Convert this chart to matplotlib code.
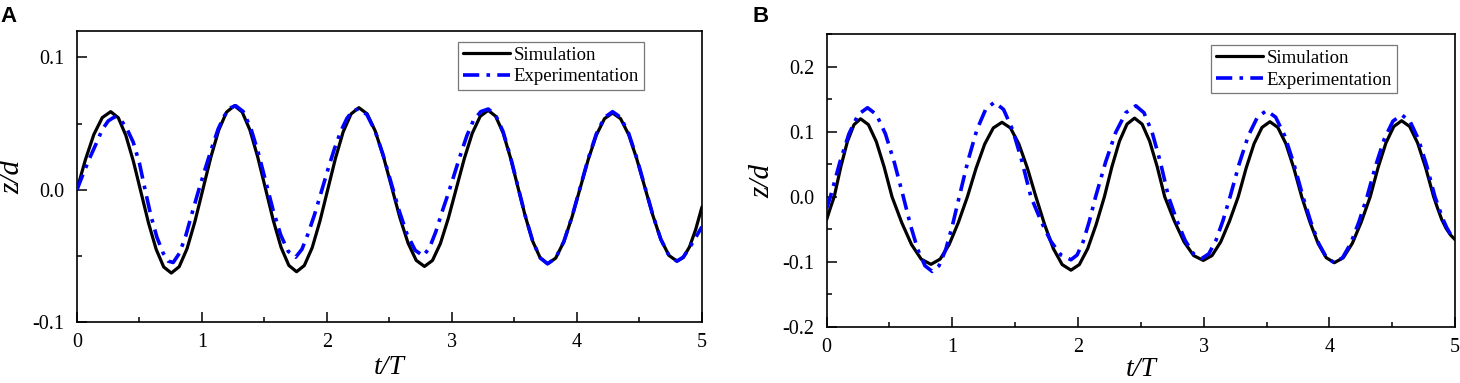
import matplotlib
matplotlib.use("Agg")
import matplotlib.pyplot as plt
from matplotlib.ticker import MultipleLocator

plt.rcParams['axes.unicode_minus'] = False
plt.rcParams['font.family'] = ['Liberation Serif', 'DejaVu Serif']

# ---------------- data ----------------
a_sim_t = [0, 0.0675, 0.135, 0.2025, 0.27, 0.331, 0.391, 0.452, 0.5125, 0.573, 0.634, 0.694, 0.755,
           0.818, 0.881, 0.944, 1.0075, 1.071, 1.134, 1.197, 1.26, 1.322, 1.384, 1.446, 1.5085, 1.571,
           1.633, 1.695, 1.757, 1.819, 1.882, 1.944, 2.006, 2.068, 2.130, 2.193, 2.255, 2.321, 2.386,
           2.452, 2.5175, 2.583, 2.649, 2.714, 2.78, 2.844, 2.9075, 2.971, 3.035, 3.099, 3.1625, 3.226,
           3.29, 3.349, 3.409, 3.468, 3.5275, 3.587, 3.646, 3.706, 3.765, 3.83, 3.895, 3.96, 4.025,
           4.09, 4.155, 4.22, 4.285, 4.349, 4.414, 4.478, 4.5425, 4.607, 4.671, 4.736, 4.80, 4.85,
           4.90, 4.95, 5.0]
a_sim_z = [0, 0.0226, 0.0417, 0.0545, 0.059, 0.0544, 0.0411, 0.0213, -0.002, -0.0253, -0.0451, -0.0584,
           -0.063, -0.0582, -0.0445, -0.0240, 0.0003, 0.0245, 0.0450, 0.0587, 0.0635, 0.0587, 0.0451,
           0.0248, 0.0008, -0.0233, -0.0436, -0.0572, -0.062, -0.0573, -0.0438, -0.0237, 0.0, 0.0237,
           0.0438, 0.0573, 0.062, 0.0574, 0.0444, 0.0250, 0.002, -0.0210, -0.0404, -0.0534, -0.058,
           -0.0535, -0.0407, -0.0216, 0.001, 0.0236, 0.0427, 0.0555, 0.060, 0.0556, 0.0430, 0.0242,
           0.002, -0.0202, -0.0390, -0.0516, -0.056, -0.0517, -0.0393, -0.0208, 0.001, 0.0228, 0.0413,
           0.0537, 0.058, 0.0537, 0.0416, 0.0234, 0.002, -0.0194, -0.0376, -0.0497, -0.054, -0.0513,
           -0.0433, -0.030, -0.013]

a_exp_t = [0, 0.05, 0.10, 0.15, 0.20, 0.25, 0.30, 0.35, 0.40, 0.45, 0.50, 0.545, 0.59, 0.64, 0.69,
           0.73, 0.77, 0.82, 0.87, 0.92, 0.975, 1.03, 1.08, 1.13, 1.18, 1.23, 1.27, 1.33, 1.39, 1.45,
           1.51, 1.57, 1.63, 1.69, 1.75, 1.80, 1.85, 1.90, 1.96, 2.01, 2.06, 2.11, 2.16, 2.21, 2.255,
           2.319, 2.384, 2.448, 2.5125, 2.577, 2.641, 2.706, 2.77, 2.82, 2.87, 2.92, 2.97, 3.02, 3.07,
           3.12, 3.17, 3.23, 3.29, 3.349, 3.409, 3.468, 3.5275, 3.587, 3.646, 3.706, 3.765, 3.83,
           3.895, 3.96, 4.025, 4.09, 4.155, 4.22, 4.285, 4.349, 4.414, 4.478, 4.5425, 4.607, 4.671,
           4.736, 4.80, 4.85, 4.90, 4.95, 5.0]
a_exp_z = [0, 0.012, 0.0235, 0.034, 0.045, 0.052, 0.055, 0.053, 0.046, 0.036, 0.020, 0.0, -0.019,
           -0.036, -0.048, -0.054, -0.055, -0.048, -0.035, -0.018, 0.0, 0.017, 0.032, 0.046, 0.056,
           0.062, 0.0635, 0.0591, 0.0467, 0.0282, 0.0063, -0.0157, -0.0342, -0.0466, -0.051, -0.045,
           -0.033, -0.019, 0.0, 0.016, 0.031, 0.044, 0.054, 0.060, 0.061, 0.0568, 0.0447, 0.0267,
           0.0055, -0.0157, -0.0337, -0.0458, -0.050, -0.044, -0.032, -0.017, -0.003, 0.012, 0.027,
           0.041, 0.052, 0.059, 0.061, 0.0565, 0.0439, 0.0249, 0.0025, -0.0199, -0.0389, -0.0515,
           -0.056, -0.0516, -0.0392, -0.0205, 0.0015, 0.0235, 0.0422, 0.0546, 0.059, 0.0547, 0.0425,
           0.0241, 0.0025, -0.0191, -0.0375, -0.0497, -0.054, -0.051, -0.044, -0.036, -0.028]

b_sim_t = [0, 0.03, 0.06, 0.1125, 0.165, 0.2175, 0.27, 0.3325, 0.395, 0.4575, 0.52, 0.5975, 0.675,
           0.7525, 0.83, 0.9025, 0.975, 1.0475, 1.12, 1.189, 1.2575, 1.326, 1.395, 1.4625, 1.53,
           1.5975, 1.665, 1.735, 1.804, 1.874, 1.944, 2.0105, 2.077, 2.1435, 2.21, 2.27, 2.33, 2.39,
           2.45, 2.51, 2.57, 2.63, 2.69, 2.767, 2.8435, 2.92, 2.997, 3.0665, 3.136, 3.2055, 3.275,
           3.338, 3.401, 3.464, 3.527, 3.59, 3.654, 3.717, 3.78, 3.845, 3.91, 3.975, 4.04, 4.111,
           4.1825, 4.254, 4.325, 4.3875, 4.45, 4.5125, 4.575, 4.639, 4.7025, 4.766, 4.83, 4.86, 4.894,
           4.93, 4.965, 5.0]
b_sim_z = [-0.035, -0.017, 0.0, 0.0459, 0.0849, 0.1109, 0.120, 0.1109, 0.0849, 0.0459, 0.0, -0.0398,
           -0.0735, -0.0961, -0.104, -0.0961, -0.0735, -0.0398, 0.0, 0.0439, 0.0810, 0.1059, 0.1146,
           0.1059, 0.0810, 0.0439, 0.0, -0.0432, -0.0799, -0.1044, -0.113, -0.1044, -0.0799, -0.0432,
           0.0, 0.0463, 0.0856, 0.1118, 0.121, 0.1118, 0.0856, 0.0463, 0.0, -0.0375, -0.0693, -0.0905,
           -0.098, -0.0905, -0.0693, -0.0375, 0.0, 0.0442, 0.0817, 0.1067, 0.1155, 0.1067, 0.0817,
           0.0442, 0.0, -0.0388, -0.0718, -0.0938, -0.1015, -0.0938, -0.0718, -0.0388, 0.0, 0.0448,
           0.0827, 0.1081, 0.117, 0.1081, 0.0827, 0.0448, 0.0, -0.017, -0.035, -0.049, -0.059, -0.066]

b_exp_t = [0, 0.03, 0.104, 0.1775, 0.251, 0.325, 0.396, 0.4675, 0.539, 0.61, 0.6675, 0.725, 0.7825,
           0.84, 0.894, 0.9475, 1.001, 1.055, 1.125, 1.195, 1.265, 1.335, 1.4075, 1.48, 1.5525, 1.625,
           1.705, 1.784, 1.864, 1.944, 1.993, 2.042, 2.091, 2.14, 2.22, 2.30, 2.38, 2.46, 2.525, 2.59,
           2.655, 2.72, 2.786, 2.8525, 2.919, 2.985, 3.041, 3.0975, 3.154, 3.21, 3.2825, 3.355, 3.4275,
           3.50, 3.5725, 3.645, 3.7175, 3.79, 3.8525, 3.915, 3.9775, 4.04, 4.105, 4.17, 4.235, 4.30,
           4.369, 4.4375, 4.506, 4.575, 4.641, 4.7075, 4.774, 4.84, 4.87, 4.90, 4.935, 4.965, 5.0]
b_exp_z = [-0.018, 0.0, 0.0524, 0.0969, 0.1266, 0.137, 0.1266, 0.0969, 0.0524, 0.0, -0.0440, -0.0813,
           -0.1062, -0.115, -0.1062, -0.0813, -0.0440, 0.0, 0.0557, 0.1029, 0.1344, 0.1455, 0.1344,
           0.1029, 0.0557, 0.0, -0.0371, -0.0686, -0.0896, -0.097, -0.0896, -0.0686, -0.0371, 0.0,
           0.0536, 0.0990, 0.1293, 0.140, 0.1293, 0.0990, 0.0536, 0.0, -0.0364, -0.0672, -0.0878,
           -0.095, -0.0878, -0.0672, -0.0364, 0.0, 0.0507, 0.0938, 0.1225, 0.1326, 0.1225, 0.0938,
           0.0507, 0.0, -0.0388, -0.0718, -0.0938, -0.1015, -0.0938, -0.0718, -0.0388, 0.0, 0.0482,
           0.0891, 0.1164, 0.126, 0.1164, 0.0891, 0.0482, 0.0, -0.016, -0.033, -0.048, -0.058, -0.066]

x_ticks = [0, 1, 2, 3, 4, 5]
x_labels = ['0', '1', '2', '3', '4', '5']
a_yticks = [-0.1, 0.0, 0.1]
a_ylabels = ['-0.1', '0.0', '0.1']
b_yticks = [-0.2, -0.1, 0.0, 0.1, 0.2]
b_ylabels = ['-0.2', '-0.1', '0.0', '0.1', '0.2']
series_names = ['Simulation', 'Experimentation']
panel_names = ['A', 'B']

# ---------------- figure ----------------
fig = plt.figure(figsize=(14.6, 3.83), dpi=100)
axA = fig.add_axes([0.0527, 0.1593, 0.4281, 0.7598])
axB = fig.add_axes([0.5662, 0.1470, 0.4304, 0.7634])

panels = [
    (axA, a_sim_t, a_sim_z, a_exp_t, a_exp_z, (-0.1, 0.12), a_yticks, a_ylabels, 2),
    (axB, b_sim_t, b_sim_z, b_exp_t, b_exp_z, (-0.2, 0.25), b_yticks, b_ylabels, 0),
]

for ax, st, sz, et, ez, ylim, yt, yl, xpad in panels:
    ax.plot(st, sz, color='black', lw=2.3, solid_joinstyle='round', solid_capstyle='round',
            label=series_names[0], zorder=2)
    ax.plot(et, ez, color='#0000ff', lw=2.6, linestyle=(0, (4.5, 2.0, 1, 2.0)),
            dash_joinstyle='round', label=series_names[1], zorder=3)
    ax.set_xlim(0, 5)
    ax.set_ylim(*ylim)
    ax.set_xticks(x_ticks)
    ax.set_xticklabels(x_labels)
    ax.set_yticks(yt)
    ax.set_yticklabels(yl)
    ax.xaxis.set_minor_locator(MultipleLocator(0.5))
    ax.yaxis.set_minor_locator(MultipleLocator(0.05))
    ax.tick_params(which='both', direction='in', top=False, right=False, width=1.1,
                   labelsize=14.5, colors='black')
    ax.tick_params(which='major', length=7.2, pad=8)
    ax.tick_params(which='minor', length=3.6)
    ax.tick_params(axis='y', which='major', pad=9)
    for sp in ax.spines.values():
        sp.set_linewidth(1.2)
    ax.set_xlabel('t/T', fontsize=20, fontstyle='italic', labelpad=xpad)
    ax.set_ylabel('z/d', fontsize=21, fontstyle='italic', labelpad=5)
    leg = ax.legend(loc='upper right', bbox_to_anchor=(0.907, 0.963), fontsize=13.5,
                    frameon=True, fancybox=False, handlelength=2.5, handletextpad=0.2,
                    borderpad=0.25, labelspacing=0.25, borderaxespad=0)
    leg.get_frame().set_edgecolor('#555555')
    leg.get_frame().set_linewidth(0.9)

fig.text(0.0, 0.985, panel_names[0], fontsize=16, fontweight='bold',
         family=['Liberation Sans', 'DejaVu Sans'], va='top', ha='left')
fig.text(0.5155, 0.985, panel_names[1], fontsize=16, fontweight='bold',
         family=['Liberation Sans', 'DejaVu Sans'], va='top', ha='left')

fig.savefig('out.png', dpi=100)
